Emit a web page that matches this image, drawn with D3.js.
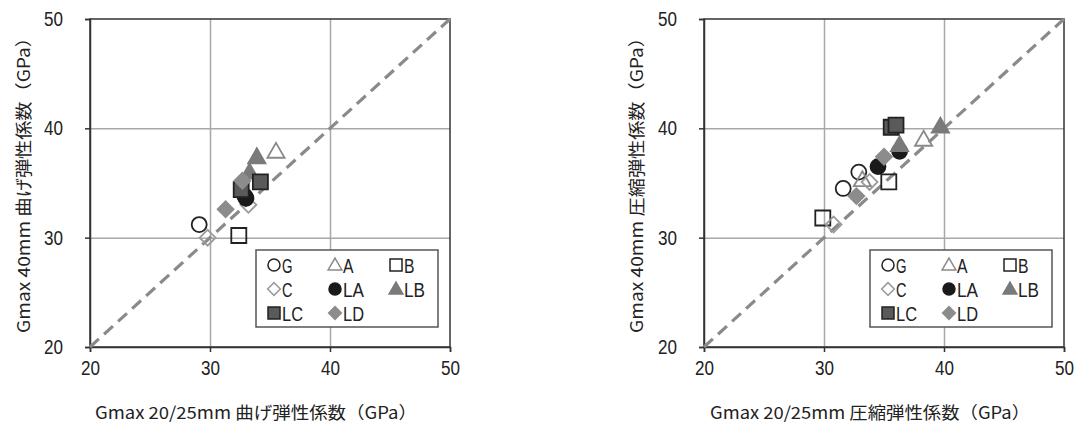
<!DOCTYPE html>
<html><head><meta charset="utf-8">
<script src="https://cdn.jsdelivr.net/npm/d3@7"></script>
<style>body{margin:0;background:#fff}svg{display:block}</style>
</head><body>
<svg id="c" width="1077" height="430"></svg>
<script>
// ---- data ----
const axisTicks = [20, 30, 40, 50];
const gridTicks = [30, 40];
const seriesNames = ["G", "A", "B", "C", "LA", "LB", "LC", "LD"];

// Left chart: bending modulus
const bendG  = [[29.1, 31.2], [32.9, 33.8]];
const bendA  = [[35.5, 37.9]];
const bendB  = [[32.4, 30.2]];
const bendC  = [[29.8, 30.0], [33.2, 33.0]];
const bendLA = [[33.0, 33.6]];
const bendLB = [[33.3, 36.0], [33.9, 37.4]];
const bendLC = [[32.6, 34.4], [34.2, 35.1]];
const bendLD = [[31.3, 32.6], [32.7, 35.2]];

// Right chart: compression modulus
const compG  = [[31.6, 34.5], [32.9, 36.0]];
const compA  = [[33.2, 35.3], [38.3, 39.0]];
const compB  = [[29.9, 31.8], [35.4, 35.1]];
const compC  = [[30.8, 31.2], [33.8, 35.1]];
const compLA = [[34.5, 36.5], [36.3, 37.9]];
const compLB = [[36.3, 38.5], [39.7, 40.2]];
const compLC = [[35.6, 40.1], [36.0, 40.3]];
const compLD = [[32.7, 33.8], [35.0, 37.4]];

const leftTitles  = {x: "Gmax 20/25mm 曲げ弾性係数（GPa）", y: "Gmax 40mm 曲げ弾性係数（GPa）"};
const rightTitles = {x: "Gmax 20/25mm 圧縮弾性係数（GPa）", y: "Gmax 40mm 圧縮弾性係数（GPa）"};

// ---- styles ----
const styles = {
  G:  {shape: "circle",   fill: "none",    stroke: "#222"},
  A:  {shape: "triangle", fill: "none",    stroke: "#8a8a8a"},
  B:  {shape: "square",   fill: "none",    stroke: "#222"},
  C:  {shape: "diamond",  fill: "none",    stroke: "#9a9a9a"},
  LA: {shape: "circle",   fill: "#1a1a1a", stroke: "#1a1a1a"},
  LB: {shape: "triangle", fill: "#7a7a7a", stroke: "#7a7a7a"},
  LC: {shape: "square",   fill: "#5a5a5a", stroke: "#222"},
  LD: {shape: "diamond",  fill: "#8c8c8c", stroke: "#8c8c8c"}
};
const numFont = "'Liberation Sans', Arial, sans-serif";
const cjkFont = "'Noto Sans CJK JP', sans-serif";

function symPath(shape, s) {
  if (shape === "circle") return d3.symbol(d3.symbolCircle, Math.PI * (s/2) * (s/2))();
  if (shape === "square") return d3.symbol(d3.symbolSquare, s * s)();
  if (shape === "triangle") return d3.symbol(d3.symbolTriangle, Math.sqrt(3) / 4 * (s*1.15) * (s*1.15))();
  return d3.symbol(d3.symbolSquare, (s*0.75) * (s*0.75))();
}

const svg = d3.select("#c");

function drawChart(x0, seriesData, titles, yTitleX, xTitleRange) {
  const x = d3.scaleLinear().domain([20, 50]).range([x0, x0 + 360]);
  const y = d3.scaleLinear().domain([20, 50]).range([347, 19]);
  const g = svg.append("g");

  // grid
  g.append("g").attr("transform", `translate(${x0},0)`)
    .call(d3.axisLeft(y).tickValues(gridTicks).tickSize(-360).tickFormat(""))
    .call(s => s.select(".domain").remove())
    .call(s => s.selectAll("line").attr("stroke", "#a8a8a8").attr("stroke-width", 1.5));
  g.append("g").attr("transform", `translate(0,347)`)
    .call(d3.axisBottom(x).tickValues(gridTicks).tickSize(-328).tickFormat(""))
    .call(s => s.select(".domain").remove())
    .call(s => s.selectAll("line").attr("stroke", "#a8a8a8").attr("stroke-width", 1.5));

  // frame
  g.append("rect").attr("x", x(20)).attr("y", y(50)).attr("width", x(50) - x(20)).attr("height", y(20) - y(50))
    .attr("fill", "none").attr("stroke", "#333").attr("stroke-width", 1.5);

  // axes
  const ay = g.append("g").attr("transform", `translate(${x0},0)`)
    .call(d3.axisLeft(y).tickValues(axisTicks).tickSize(5).tickPadding(22));
  const ax = g.append("g").attr("transform", `translate(0,347)`)
    .call(d3.axisBottom(x).tickValues(axisTicks).tickSize(5).tickPadding(9));
  [ay, ax].forEach(a => {
    a.select(".domain").attr("stroke", "#333").attr("stroke-width", 1.5);
    a.selectAll("line").attr("stroke", "#333").attr("stroke-width", 1.5);
    a.selectAll("text").attr("font-family", numFont).attr("font-size", 20).attr("fill", "#222")
      .attr("textLength", 19).attr("lengthAdjust", "spacingAndGlyphs");
  });

  // diagonal
  g.append("line").attr("x1", x(20)).attr("y1", y(20)).attr("x2", x(50)).attr("y2", y(50))
    .attr("stroke", "#8a8a8a").attr("stroke-width", 3.2).attr("stroke-dasharray", "12,7");

  // points
  seriesNames.forEach((name, i) => {
    const st = styles[name];
    g.append("g").selectAll("path").data(seriesData[i]).join("path")
      .attr("d", symPath(st.shape, 15))
      .attr("transform", d => `translate(${x(d[0])},${y(d[1])})` + (st.shape === "diamond" ? " rotate(45)" : "") + (st.shape === "triangle" ? " translate(0,1.5)" : ""))
      .attr("fill", st.fill).attr("stroke", st.stroke).attr("stroke-width", 1.8);
  });

  // legend
  const lg = g.append("g").attr("transform", `translate(${x0 + 166},250)`);
  lg.append("rect").attr("width", 182).attr("height", 77).attr("fill", "#fff").attr("stroke", "#555").attr("stroke-width", 1.5);
  seriesNames.forEach((name, i) => {
    const st = styles[name];
    const col = i % 3, row = Math.floor(i / 3);
    const cx = 18 + col * 61, cy = 15 + row * 24;
    lg.append("path").attr("d", symPath(st.shape, 12))
      .attr("transform", `translate(${cx},${cy})` + (st.shape === "diamond" ? " rotate(45)" : "") + (st.shape === "triangle" ? " translate(0,1)" : ""))
      .attr("fill", st.fill).attr("stroke", st.stroke).attr("stroke-width", 1.5);
    lg.append("text").attr("x", cx + 8).attr("y", cy + 7.5).text(name)
      .attr("font-family", numFont).attr("font-size", 20).attr("fill", "#222")
      .attr("textLength", 10.5 * name.length).attr("lengthAdjust", "spacingAndGlyphs");
  });

  // titles
  g.append("text").attr("x", xTitleRange[0]).attr("y", 419).text(titles.x)
    .attr("font-family", cjkFont).attr("font-size", 17).attr("fill", "#222")
    .attr("textLength", xTitleRange[1] - xTitleRange[0]).attr("lengthAdjust", "spacingAndGlyphs");
  g.append("text").attr("transform", `translate(${yTitleX},333) rotate(-90)`).text(titles.y)
    .attr("font-family", cjkFont).attr("font-size", 17).attr("fill", "#222")
    .attr("textLength", 305).attr("lengthAdjust", "spacingAndGlyphs");
}

drawChart(90, [bendG, bendA, bendB, bendC, bendLA, bendLB, bendLC, bendLD], leftTitles, 30, [95, 417]);
drawChart(704, [compG, compA, compB, compC, compLA, compLB, compLC, compLD], rightTitles, 643, [710, 1030]);
</script>
</body></html>
